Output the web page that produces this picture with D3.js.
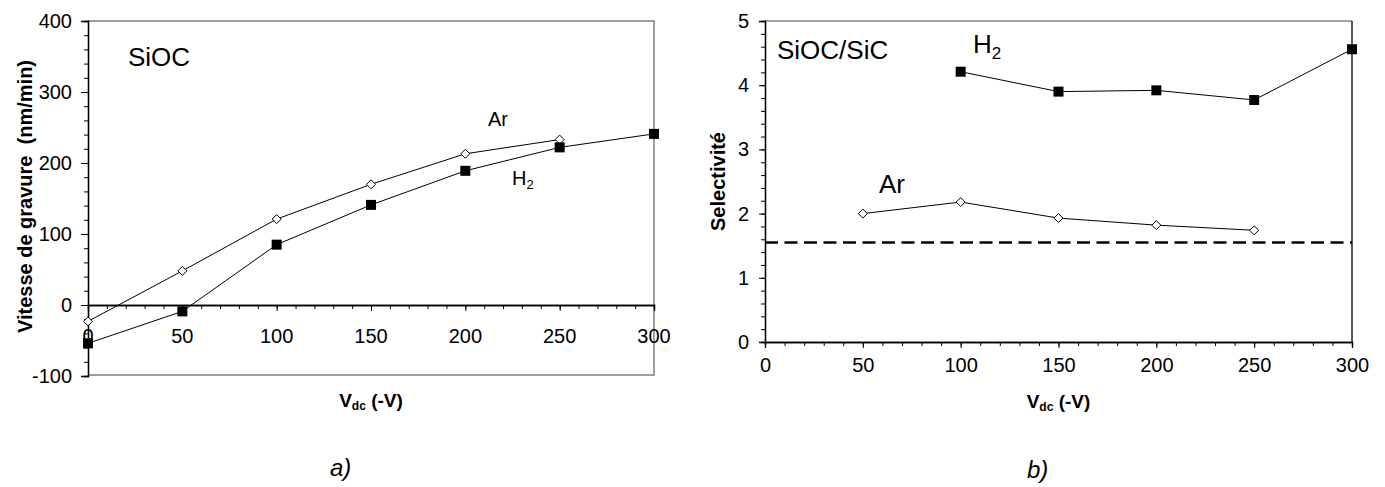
<!DOCTYPE html>
<html><head><meta charset="utf-8">
<script src="https://cdn.jsdelivr.net/npm/d3@7"></script>
<style>
html,body{margin:0;padding:0;background:#fff;}
svg text{font-family:Arial,"Liberation Sans",sans-serif;}
</style></head>
<body>
<svg id="c" width="1385" height="487"></svg>
<script>
// ---- Data ----
const xTicks = [0, 50, 100, 150, 200, 250, 300];
// Panel a) etch rate (nm/min)
const arX_a = [0, 50, 100, 150, 200, 250];
const arY_a = [-23, 48, 121, 170, 213, 233];
const h2X_a = [0, 50, 100, 150, 200, 250, 300];
const h2Y_a = [-54, -9, 85, 141, 189, 222, 241];
const yTicks_a = [-100, 0, 100, 200, 300, 400];
// Panel b) selectivity
const arX_b = [50, 100, 150, 200, 250];
const arY_b = [2.0, 2.18, 1.93, 1.82, 1.74];
const h2X_b = [100, 150, 200, 250, 300];
const h2Y_b = [4.21, 3.90, 3.92, 3.77, 4.56];
const refSel = 1.55;
const yTicks_b = [0, 1, 2, 3, 4, 5];

const svg = d3.select("#c");
const FONT = 20;
const fmt = d => String(d);

function markers(g, xs, ys, x, y, type){
  const pts = xs.map((d,i)=>[x(d), y(ys[i])]);
  g.append("path").attr("d", d3.line()(pts)).attr("fill","none").attr("stroke","#000").attr("stroke-width",1);
  if(type==="sq"){
    g.selectAll(null).data(pts).enter().append("rect")
      .attr("x",d=>d[0]-5).attr("y",d=>d[1]-5).attr("width",10).attr("height",10).attr("fill","#000");
  } else {
    g.selectAll(null).data(pts).enter().append("path")
      .attr("d",d=>`M${d[0]},${d[1]-4.5}L${d[0]+4.5},${d[1]}L${d[0]},${d[1]+4.5}L${d[0]-4.5},${d[1]}Z`)
      .attr("fill","#fff").attr("stroke","#000").attr("stroke-width",1);
  }
}

function styleAxis(g){
  g.select(".domain").attr("stroke","#000").attr("stroke-width",1.3);
  g.selectAll(".tick line").attr("stroke","#000").attr("stroke-width",1);
}

// ---------- Panel a ----------
{
  const L=88, R=654, T=21, B=376;
  const x = d3.scaleLinear().domain([0,300]).range([L,R]);
  const y = d3.scaleLinear().domain([-100,400]).range([B,T]);
  const g = svg.append("g");
  g.append("path").attr("d",`M${L},${T}H${R}V${B-1}H${L}`).attr("fill","none").attr("stroke","#808080").attr("stroke-width",1.5);
  const gyM = g.append("g").attr("transform",`translate(${L},0)`)
    .call(d3.axisLeft(y).tickValues(d3.range(-100,401,20)).tickSize(4).tickFormat(""));
  styleAxis(gyM);
  const gy = g.append("g").attr("transform",`translate(${L},0)`)
    .call(d3.axisLeft(y).tickValues(yTicks_a).tickSize(7).tickPadding(9).tickFormat(fmt));
  styleAxis(gy);
  gy.selectAll("text").attr("font-size",FONT).attr("fill","#000");
  const gxM = g.append("g").attr("transform",`translate(0,${y(0)})`)
    .call(d3.axisBottom(x).tickValues(d3.range(0,301,10)).tickSize(4).tickFormat(""));
  styleAxis(gxM);
  const gx = g.append("g").attr("transform",`translate(0,${y(0)})`)
    .call(d3.axisBottom(x).tickValues(xTicks).tickSize(6).tickFormat(""));
  styleAxis(gx);
  g.append("g").selectAll("text").data(xTicks).enter().append("text")
    .attr("x",d=>x(d)).attr("y",y(0)+38).attr("text-anchor","middle").attr("font-size",FONT).text(d=>d);
  markers(g, arX_a, arY_a, x, y, "dia");
  markers(g, h2X_a, h2Y_a, x, y, "sq");
  g.append("text").attr("x",128).attr("y",66).attr("font-size",26).text("SiOC");
  g.append("text").attr("x",488).attr("y",126).attr("font-size",20).text("Ar");
  const h = g.append("text").attr("x",512).attr("y",185).attr("font-size",20);
  h.append("tspan").text("H");
  h.append("tspan").attr("font-size",13).attr("dy",4).text("2");
  g.append("text").attr("transform",`translate(32,${(T+B)/2 - 2}) rotate(-90)`)
    .attr("text-anchor","middle").attr("font-size",20).attr("font-weight","bold")
    .style("white-space","pre").text("Vitesse de gravure  (nm/min)");
  const xt = g.append("text").attr("x",(L+R)/2).attr("y",407).attr("text-anchor","middle").attr("font-size",19).attr("font-weight","bold");
  xt.append("tspan").text("V");
  xt.append("tspan").attr("font-size",12).attr("dy",3).text("dc");
  xt.append("tspan").attr("dy",-3).text(" (-V)");
  g.append("text").attr("x",330).attr("y",476).attr("font-size",24).attr("font-style","italic").text("a)");
}

// ---------- Panel b ----------
{
  const L=765, R=1352, T=21, B=342;
  const x = d3.scaleLinear().domain([0,300]).range([L,R]);
  const y = d3.scaleLinear().domain([0,5]).range([B,T]);
  const g = svg.append("g");
  g.append("path").attr("d",`M${L},${T}H${R}`).attr("fill","none").attr("stroke","#808080").attr("stroke-width",1.5);
  g.append("path").attr("d",`M${R},${T}V${B}`).attr("fill","none").attr("stroke","#000").attr("stroke-width",1.3);
  const gyM = g.append("g").attr("transform",`translate(${L},0)`)
    .call(d3.axisLeft(y).tickValues(d3.range(0,5.01,0.2)).tickSize(4).tickFormat(""));
  styleAxis(gyM);
  const gy = g.append("g").attr("transform",`translate(${L},0)`)
    .call(d3.axisLeft(y).tickValues(yTicks_b).tickSize(6).tickPadding(10).tickFormat(fmt));
  styleAxis(gy);
  gy.selectAll("text").attr("font-size",FONT).attr("fill","#000");
  const gxM = g.append("g").attr("transform",`translate(0,${B})`)
    .call(d3.axisBottom(x).tickValues(d3.range(0,301,10)).tickSize(4).tickFormat(""));
  styleAxis(gxM);
  const gx = g.append("g").attr("transform",`translate(0,${B})`)
    .call(d3.axisBottom(x).tickValues(xTicks).tickSize(6).tickPadding(10).tickFormat(fmt));
  styleAxis(gx);
  gx.selectAll("text").attr("font-size",FONT).attr("fill","#000");
  g.append("line").attr("x1",L).attr("x2",R).attr("y1",y(refSel)).attr("y2",y(refSel))
    .attr("stroke","#000").attr("stroke-width",2.5).attr("stroke-dasharray","13,6.5");
  markers(g, arX_b, arY_b, x, y, "dia");
  markers(g, h2X_b, h2Y_b, x, y, "sq");
  g.append("text").attr("x",777).attr("y",59).attr("font-size",26).text("SiOC/SiC");
  const h = g.append("text").attr("x",973).attr("y",53).attr("font-size",26);
  h.append("tspan").text("H");
  h.append("tspan").attr("font-size",17).attr("dy",6).text("2");
  g.append("text").attr("x",879).attr("y",193).attr("font-size",26).text("Ar");
  g.append("text").attr("transform",`translate(725,${(T+B)/2}) rotate(-90)`)
    .attr("text-anchor","middle").attr("font-size",20).attr("font-weight","bold").text("Selectivité");
  const xt = g.append("text").attr("x",(L+R)/2).attr("y",408).attr("text-anchor","middle").attr("font-size",19).attr("font-weight","bold");
  xt.append("tspan").text("V");
  xt.append("tspan").attr("font-size",12).attr("dy",3).text("dc");
  xt.append("tspan").attr("dy",-3).text(" (-V)");
  g.append("text").attr("x",1027).attr("y",478).attr("font-size",24).attr("font-style","italic").text("b)");
}
</script>
</body></html>
